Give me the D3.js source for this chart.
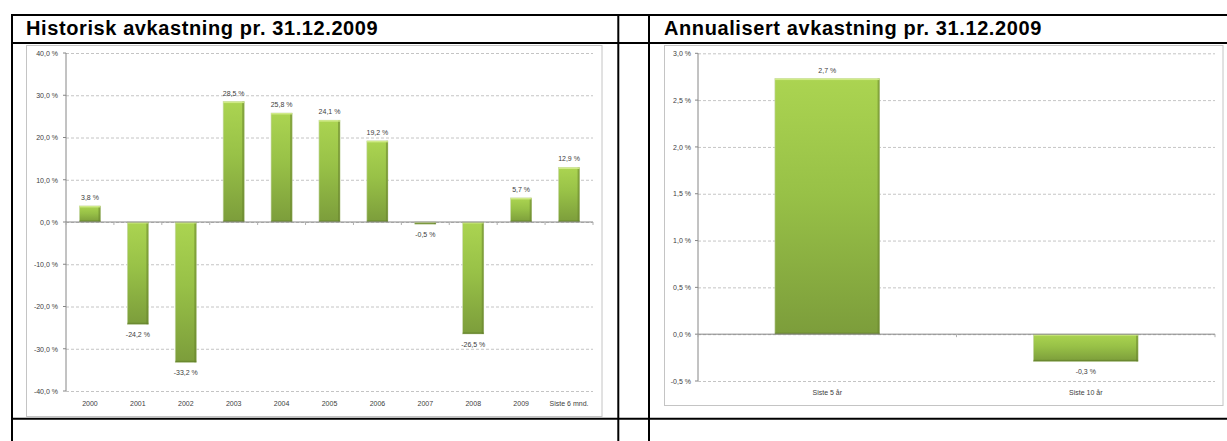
<!DOCTYPE html>
<html>
<head>
  <meta charset="utf-8">
  <title>Avkastning</title>
  <script src="https://cdn.jsdelivr.net/npm/d3@7/dist/d3.min.js"></script>
  <style>
    body { margin: 0; background: #fff; }
    text { font-family: "Liberation Sans", Arial, sans-serif; }
  </style>
</head>
<body>
  <svg width="1227" height="441" id="mainsvg"></svg>

  <script>
    // historisk avkastning (venstre)
    const histCategories = ['2000', '2001', '2002', '2003', '2004', '2005', '2006', '2007', '2008', '2009', 'Siste 6 mnd.'];
    const histValues = [3.8, -24.2, -33.2, 28.5, 25.8, 24.1, 19.2, -0.5, -26.5, 5.7, 12.9];
    const histTicks = [40, 30, 20, 10, 0, -10, -20, -30, -40];

    // annualisert avkastning (høyre)
    const annCategories = ['Siste 5 år', 'Siste 10 år'];
    const annValues = [2.73, -0.29];
    const annTicks = [3.0, 2.5, 2.0, 1.5, 1.0, 0.5, 0.0, -0.5];

    const svg = d3.select('#mainsvg');
    const width = +svg.attr('width');
    const height = +svg.attr('height');

    const pct = v => v.toFixed(1).replace('.', ',') + ' %';

    // gradient for the bars
    const defs = svg.append('defs');
    const grad = defs.append('linearGradient').attr('id', 'barGrad')
      .attr('x1', 0).attr('y1', 0).attr('x2', 0).attr('y2', 1);
    grad.append('stop').attr('offset', '0%').attr('stop-color', '#abd451');
    grad.append('stop').attr('offset', '45%').attr('stop-color', '#98c147');
    grad.append('stop').attr('offset', '100%').attr('stop-color', '#7c9d3b');

    // chart frames (white boxes with light grey border)
    svg.append('rect').attr('x', 26.5).attr('y', 45.5).attr('width', 575.5).attr('height', 371)
      .attr('fill', '#fff').attr('stroke', '#c4c4c4');
    svg.append('rect').attr('x', 664.5).attr('y', 45.5).attr('width', 558.5).attr('height', 360)
      .attr('fill', '#fff').attr('stroke', '#c4c4c4');

    function drawChart(cfg) {
      const innerWidth = cfg.right - cfg.left;
      const innerHeight = cfg.bottom - cfg.top;
      const g = svg.append('g').attr('transform', `translate(${cfg.left}, ${cfg.top})`);

      const xScale = d3.scaleBand().domain(cfg.categories).range([0, innerWidth])
        .paddingInner(cfg.pad).paddingOuter(cfg.pad / 2);
      const yScale = d3.scaleLinear().domain(d3.extent(cfg.ticks)).range([innerHeight, 0]);

      // dashed gridlines + y labels
      const yAxis = d3.axisLeft(yScale).tickValues(cfg.ticks).tickSize(-innerWidth)
        .tickPadding(cfg.yPad).tickFormat(pct);
      const yg = g.append('g').call(yAxis);
      yg.select('.domain').remove();
      yg.selectAll('.tick line').attr('stroke', '#b5b5b5').attr('stroke-dasharray', '3,2')
        .attr('stroke-width', 0.8);
      yg.selectAll('.tick text').attr('font-size', 7).attr('fill', '#404040');

      // small ticks to the left of the y axis
      g.append('g').selectAll('line').data(cfg.ticks).join('line')
        .attr('x1', -3).attr('x2', 0)
        .attr('y1', d => yScale(d)).attr('y2', d => yScale(d))
        .attr('stroke', '#868686');

      // y axis line
      g.append('line').attr('x1', 0).attr('x2', 0).attr('y1', 0).attr('y2', innerHeight)
        .attr('stroke', '#868686');

      // bars
      const bars = g.append('g').selectAll('g').data(cfg.values).join('g');
      const bx = (d, i) => xScale(cfg.categories[i]);
      const by = d => yScale(Math.max(0, d));
      const bh = d => Math.abs(yScale(d) - yScale(0));
      const bw = xScale.bandwidth();
      bars.append('rect')
        .attr('x', bx).attr('y', by).attr('width', bw).attr('height', bh)
        .attr('fill', 'url(#barGrad)')
        .attr('stroke', '#c9d8ad').attr('stroke-width', 0.6);
      // darker right edge
      bars.append('rect')
        .attr('x', (d, i) => bx(d, i) + bw - 2).attr('y', by).attr('width', 2).attr('height', bh)
        .attr('fill', '#66822c').attr('opacity', 0.55);
      // darker bottom edge
      bars.append('rect')
        .attr('x', bx).attr('y', d => by(d) + bh(d) - Math.min(1.5, bh(d) / 2))
        .attr('width', bw).attr('height', d => Math.min(1.5, bh(d) / 2))
        .attr('fill', '#5f7b28').attr('opacity', 0.6);
      // light cap at the top
      bars.append('rect')
        .attr('x', bx).attr('y', by).attr('width', bw).attr('height', d => Math.min(1.5, bh(d) / 2))
        .attr('fill', '#d3ec8c').attr('opacity', 0.9);

      // x axis at zero with small ticks at band boundaries
      g.append('line').attr('x1', 0).attr('x2', innerWidth)
        .attr('y1', yScale(0)).attr('y2', yScale(0)).attr('stroke', '#868686');
      const bounds = cfg.categories.map(c => xScale(c) - xScale.step() * cfg.pad / 2)
        .concat([innerWidth]);
      g.append('g').selectAll('line').data(bounds).join('line')
        .attr('x1', d => d).attr('x2', d => d)
        .attr('y1', yScale(0)).attr('y2', yScale(0) + 3)
        .attr('stroke', '#b0b0b0');

      // data labels
      g.append('g').selectAll('text').data(cfg.values).join('text')
        .attr('x', (d, i) => xScale(cfg.categories[i]) + bw / 2)
        .attr('y', d => d >= 0 ? yScale(d) - 6 : yScale(d) + 13)
        .attr('text-anchor', 'middle').attr('font-size', 7).attr('fill', '#404040')
        .text(d => pct(d));

      // category labels
      const xAxis = d3.axisBottom(xScale).tickSize(0).tickPadding(cfg.xPad);
      const xg = g.append('g').attr('transform', `translate(0, ${innerHeight})`).call(xAxis);
      xg.select('.domain').remove();
      xg.selectAll('.tick text').attr('font-size', 7).attr('fill', '#404040');
    }

    drawChart({
      categories: histCategories, values: histValues, ticks: histTicks,
      left: 66, right: 593, top: 53, bottom: 391, pad: 0.56, yPad: 8, xPad: 10
    });
    drawChart({
      categories: annCategories, values: annValues, ticks: annTicks,
      left: 698, right: 1215, top: 53.3, bottom: 381, pad: 0.595, yPad: 7, xPad: 9
    });

    // table lines
    const table = svg.append('g').attr('stroke', '#000').attr('stroke-width', 2);
    [15, 43, 418.7].forEach(y => {
      table.append('line').attr('x1', 11).attr('x2', width).attr('y1', y).attr('y2', y);
    });
    [12, 618.3, 649].forEach(x => {
      table.append('line').attr('x1', x).attr('x2', x).attr('y1', 14).attr('y2', height);
    });

    // titles
    svg.append('text').text('Historisk avkastning pr. 31.12.2009')
      .attr('x', 26).attr('y', 34.5).attr('font-size', 20).attr('letter-spacing', 0.6)
      .attr('font-weight', 'bold');
    svg.append('text').text('Annualisert avkastning pr. 31.12.2009')
      .attr('x', 664).attr('y', 34.5).attr('font-size', 20).attr('letter-spacing', 0.6)
      .attr('font-weight', 'bold');
  </script>
</body>
</html>
